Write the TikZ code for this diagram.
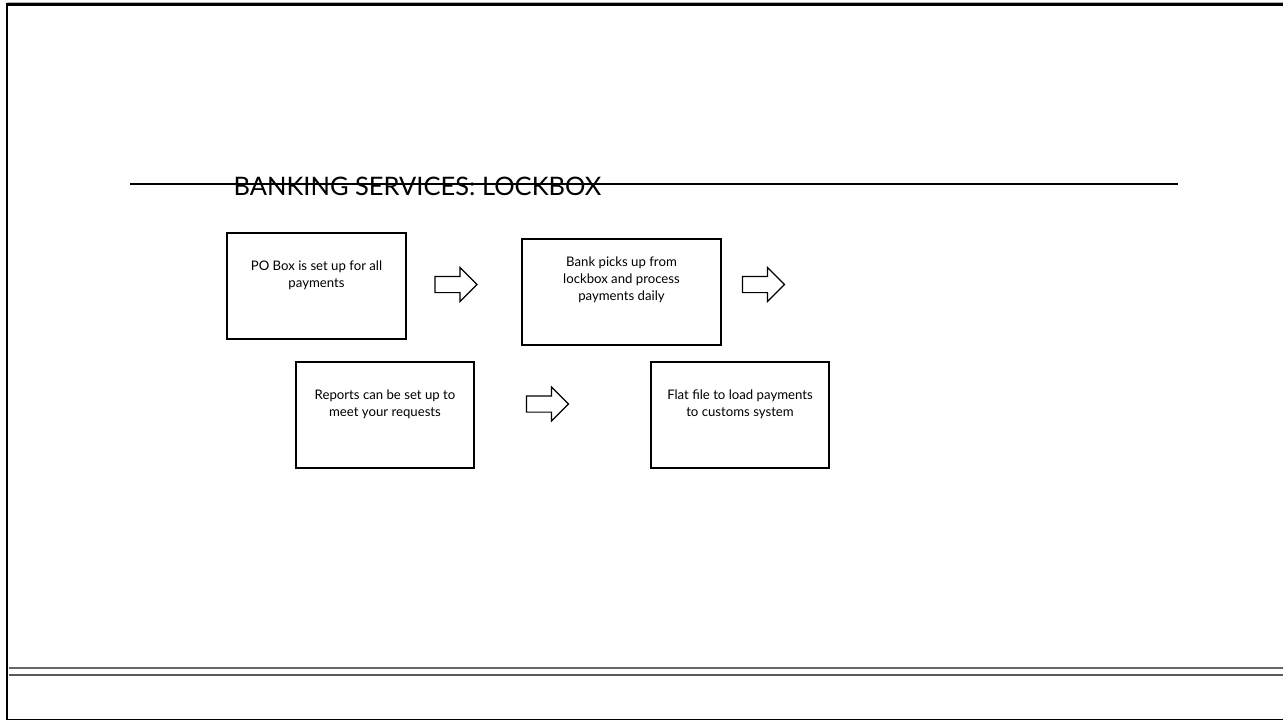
\documentclass[tikz,border=0pt]{standalone}
\usepackage{fontspec}
\setmainfont{Lato}
\usepackage{tikz}
\usetikzlibrary{positioning,shapes.arrows}
\tikzset{every picture/.style={line width=0.6pt}}
\tikzset{
  stepbox/.style={draw, minimum width=3.58cm, minimum height=2.12cm, inner sep=0pt},
  boxtext/.style={align=center, font=\fontsize{7.5}{9.6}\selectfont, inner sep=0pt},
  blockarrow/.style={draw, single arrow, single arrow head extend=0.18cm,
    single arrow head indent=0pt, minimum height=0.84cm, inner xsep=0pt,
    inner ysep=0.15cm, line width=0.7pt},
}

\begin{document}
\begin{tikzpicture}
\useasboundingbox (0,0) rectangle (25.66,-14.42);
% slide frame
\draw[gray!60, line width=0.5pt] (0.14,-0.055) -- (25.66,-0.055);
\draw[line width=1.4pt] (0.145,-14.39) -- (0.145,-0.086) -- (25.66,-0.086);
\draw[line width=1.1pt] (0.145,-14.39) -- (25.66,-14.39);
\draw[black!60, line width=0.6pt] (0.17,-13.36) -- (25.66,-13.36);
\draw[black!65, line width=1.1pt] (0.17,-13.505) -- (25.66,-13.505);
%
\coordinate (rulel) at (2.6,-3.68);
\coordinate (ruler) at (23.56,-3.68);
\draw[line width=0.7pt] (rulel) -- (ruler);
\node[anchor=base west, inner sep=0pt, font=\fontsize{14.5}{17}\selectfont] (title) at (4.66,-3.90) {BANKING SERVICES: LOCKBOX};
%
\node[stepbox] (pobox) at (6.33,-5.72) {};
\node[stepbox, minimum width=3.98cm, line width=0.9pt] (bank) at (12.43,-5.84) {};
\node[stepbox, minimum width=3.56cm] (reports) at (7.70,-8.30) {};
\node[stepbox, minimum width=3.56cm] (flatfile) at (14.80,-8.30) {};
%
\node[boxtext] (poboxtext) at ([yshift=0.22cm]pobox.center) {PO Box is set up for all\\payments};
\node[boxtext] (banktext) at ([yshift=0.24cm]bank.center) {Bank picks up from\\lockbox and process\\payments daily};
\node[boxtext] (reportstext) at ([yshift=0.22cm]reports.center) {Reports can be set up to\\meet your requests};
\node[boxtext] (flatfiletext) at ([yshift=0.22cm]flatfile.center) {Flat file to load payments\\to customs system};
%
\node[blockarrow] (arrowa) at (9.04,-5.69) {};
\node[blockarrow] (arrowb) at (15.19,-5.69) {};
\node[blockarrow] (arrowc) at (10.87,-8.08) {};
\end{tikzpicture}
\end{document}
